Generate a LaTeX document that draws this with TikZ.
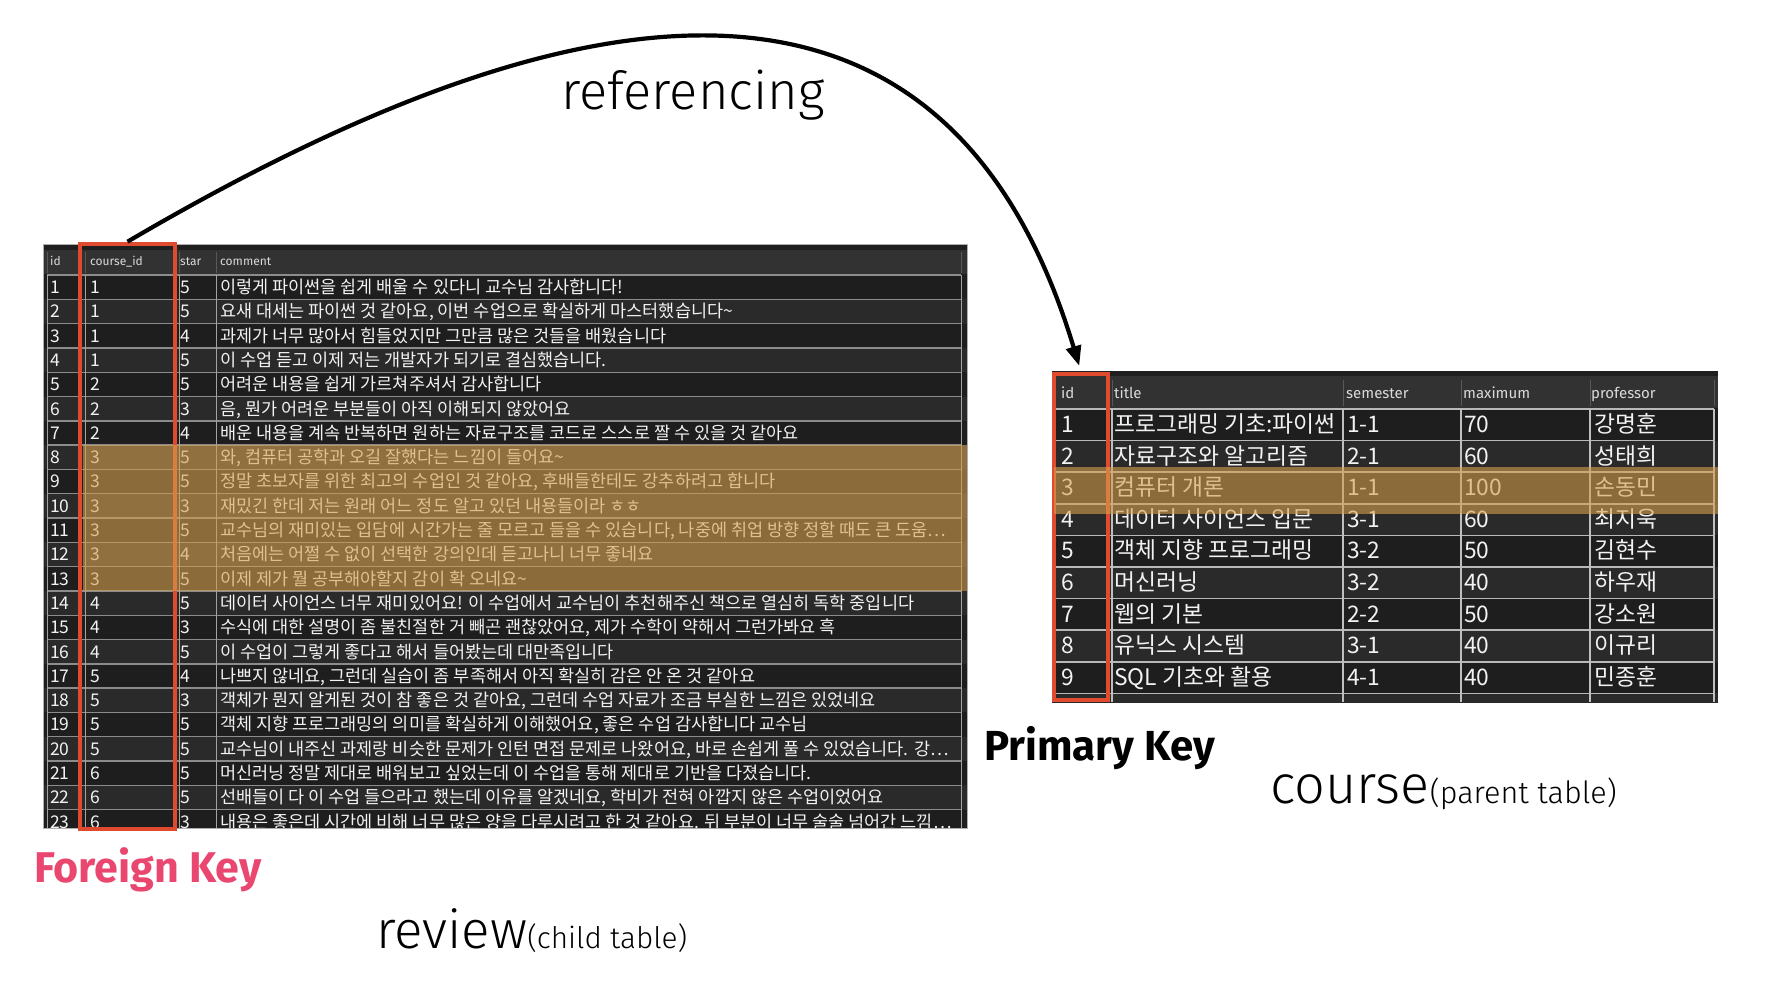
\documentclass[tikz,border=0pt]{standalone}
\usepackage{fontspec}
\usetikzlibrary{arrows.meta}
\newfontfamily\kr{Noto Sans CJK KR}
\newfontfamily\thin{Fira Sans Light}
\newfontfamily\fira{Fira Sans}
\definecolor{rowA}{HTML}{1E1E1E}
\definecolor{rowB}{HTML}{2A2A2A}
\definecolor{hdr}{HTML}{323232}
\definecolor{gridc}{HTML}{8C8C8C}
\definecolor{gridl}{HTML}{B8B8B8}
\definecolor{keyred}{HTML}{E04A2F}
\definecolor{fkpink}{HTML}{EA4770}
\definecolor{gold}{HTML}{D59F4C}
\definecolor{celltext}{HTML}{F2F2F2}
\tikzset{
  rtxt/.style={anchor=base west, inner sep=0pt, text=celltext, font=\kr\fontsize{17.5}{19}\selectfont},
  ctxt/.style={anchor=base west, inner sep=0pt, text=celltext, font=\kr\fontsize{22.8}{25}\selectfont},
  rhtxt/.style={anchor=base west, inner sep=0pt, text=celltext!90!black, font=\fira\fontsize{12}{13}\selectfont},
  chtxt/.style={anchor=base west, inner sep=0pt, text=celltext!90!black, font=\fira\fontsize{15}{16}\selectfont},
  keybox/.style={draw=keyred, line width=4.6pt, inner sep=0pt},
  hilite/.style={fill=gold, fill opacity=0.6},
  rowline/.style={draw=gridc, line width=1.4pt},
  crowline/.style={draw=gridl, line width=1.6pt},
  colline/.style={draw=gridc!80!white, line width=1pt},
  hcolline/.style={draw=black!65, line width=1pt},
  label/.style={anchor=base west, inner sep=0pt, text=black},
}
\newcommand\revrow[5]{%
  \pgfmathsetmacro\rowbase{275+(#1-1)*24.3+18.5}%
  \node[rtxt] (rid#1) at (50,\rowbase) {#2};
  \node[rtxt] (rcid#1) at (90,\rowbase) {#3};
  \node[rtxt] (rstar#1) at (180,\rowbase) {#4};
  \node[rtxt] (rcom#1) at (220,\rowbase) {#5};
}
\newcommand\crsrow[6]{%
  \pgfmathsetmacro\rowbase{409+(#1-1)*31.6+23.5}%
  \node[ctxt] (cid#1) at (1061,\rowbase) {#2};
  \node[ctxt] (ctitle#1) at (1114,\rowbase) {#3};
  \node[ctxt] (csem#1) at (1347,\rowbase) {#4};
  \node[ctxt] (cmax#1) at (1464,\rowbase) {#5};
  \node[ctxt] (cprof#1) at (1594,\rowbase) {#6};
}
\begin{document}
\begin{tikzpicture}[x=1pt,y=-1pt]
\useasboundingbox (0,0) rectangle (1778,984);
\fill[white] (0,0) rectangle (1778,984);

% ---------------- review table ----------------
\begin{scope}
  \clip (43,244) rectangle (967,828);
  \fill[rowA] (43,244) rectangle (967,828);
  \fill[black!88] (43,244) rectangle (967,250);
  \fill[hdr] (43,250) rectangle (967,274);
  \foreach \i in {1,...,23}{
    \pgfmathsetmacro\rt{275+(\i-1)*24.3}
    \ifodd\i\relax
      \fill[rowA] (43,\rt) rectangle (967,\rt+24.3);
    \else
      \fill[rowB] (43,\rt) rectangle (967,\rt+24.3);
    \fi
    \draw[rowline] (47,\rt) -- (961,\rt);
  }
  \foreach \xx in {47,85,179,216,961}{
    \draw[hcolline] (\xx,252) -- (\xx,273);
    \draw[colline] (\xx,275) -- (\xx,828);
  }
  \node[rhtxt] (hid) at (50,266) {id};
  \node[rhtxt] (hcid) at (90,266) {course\_id};
  \node[rhtxt] (hstar) at (180,266) {star};
  \node[rhtxt] (hcom) at (220,266) {comment};
  \revrow{1}{1}{1}{5}{이렇게 파이썬을 쉽게 배울 수 있다니 교수님 감사합니다!}
  \revrow{2}{2}{1}{5}{요새 대세는 파이썬 것 같아요, 이번 수업으로 확실하게 마스터했습니다\textasciitilde}
  \revrow{3}{3}{1}{4}{과제가 너무 많아서 힘들었지만 그만큼 많은 것들을 배웠습니다}
  \revrow{4}{4}{1}{5}{이 수업 듣고 이제 저는 개발자가 되기로 결심했습니다.}
  \revrow{5}{5}{2}{5}{어려운 내용을 쉽게 가르쳐주셔서 감사합니다}
  \revrow{6}{6}{2}{3}{음, 뭔가 어려운 부분들이 아직 이해되지 않았어요}
  \revrow{7}{7}{2}{4}{배운 내용을 계속 반복하면 원하는 자료구조를 코드로 스스로 짤 수 있을 것 같아요}
  \revrow{8}{8}{3}{5}{와, 컴퓨터 공학과 오길 잘했다는 느낌이 들어요\textasciitilde}
  \revrow{9}{9}{3}{5}{정말 초보자를 위한 최고의 수업인 것 같아요, 후배들한테도 강추하려고 합니다}
  \revrow{10}{10}{3}{3}{재밌긴 한데 저는 원래 어느 정도 알고 있던 내용들이라 ㅎㅎ}
  \revrow{11}{11}{3}{5}{교수님의 재미있는 입담에 시간가는 줄 모르고 들을 수 있습니다, 나중에 취업 방향 정할 때도 큰 도움…}
  \revrow{12}{12}{3}{4}{처음에는 어쩔 수 없이 선택한 강의인데 듣고나니 너무 좋네요}
  \revrow{13}{13}{3}{5}{이제 제가 뭘 공부해야할지 감이 확 오네요\textasciitilde}
  \revrow{14}{14}{4}{5}{데이터 사이언스 너무 재미있어요! 이 수업에서 교수님이 추천해주신 책으로 열심히 독학 중입니다}
  \revrow{15}{15}{4}{3}{수식에 대한 설명이 좀 불친절한 거 빼곤 괜찮았어요, 제가 수학이 약해서 그런가봐요 흑}
  \revrow{16}{16}{4}{5}{이 수업이 그렇게 좋다고 해서 들어봤는데 대만족입니다}
  \revrow{17}{17}{5}{4}{나쁘지 않네요, 그런데 실습이 좀 부족해서 아직 확실히 감은 안 온 것 같아요}
  \revrow{18}{18}{5}{3}{객체가 뭔지 알게된 것이 참 좋은 것 같아요, 그런데 수업 자료가 조금 부실한 느낌은 있었네요}
  \revrow{19}{19}{5}{5}{객체 지향 프로그래밍의 의미를 확실하게 이해했어요, 좋은 수업 감사합니다 교수님}
  \revrow{20}{20}{5}{5}{교수님이 내주신 과제랑 비슷한 문제가 인턴 면접 문제로 나왔어요, 바로 손쉽게 풀 수 있었습니다. 강…}
  \revrow{21}{21}{6}{5}{머신러닝 정말 제대로 배워보고 싶었는데 이 수업을 통해 제대로 기반을 다졌습니다.}
  \revrow{22}{22}{6}{5}{선배들이 다 이 수업 들으라고 했는데 이유를 알겠네요, 학비가 전혀 아깝지 않은 수업이었어요}
  \revrow{23}{23}{6}{3}{내용은 좋은데 시간에 비해 너무 많은 양을 다루시려고 한 것 같아요. 뒤 부분이 너무 술술 넘어간 느낌…}
\end{scope}
\draw[gridc!70!white, line width=0.8pt] (43,244) rectangle (967,828);

% ---------------- course table ----------------
\begin{scope}
  \clip (1052,371) rectangle (1718,702);
  \fill[rowA] (1052,371) rectangle (1718,702);
  \fill[black!88] (1052,371) rectangle (1718,376);
  \fill[hdr] (1052,376) rectangle (1718,408);
  \foreach \i in {1,...,10}{
    \pgfmathsetmacro\rt{409+(\i-1)*31.6}
    \ifodd\i\relax
      \fill[rowA] (1052,\rt) rectangle (1718,\rt+31.6);
    \else
      \fill[rowB] (1052,\rt) rectangle (1718,\rt+31.6);
    \fi
    \draw[crowline] (1055,\rt) -- (1714,\rt);
  }
  \foreach \xx in {1112,1343,1461,1590,1714}{
    \draw[hcolline] (\xx,380) -- (\xx,406);
    \draw[draw=gridl!90!white, line width=1.1pt] (\xx,409) -- (\xx,702);
  }
  \node[chtxt] (chid) at (1061,398) {id};
  \node[chtxt] (chtitle) at (1114,398) {title};
  \node[chtxt] (chsem) at (1346,398) {semester};
  \node[chtxt] (chmax) at (1463,398) {maximum};
  \node[chtxt] (chprof) at (1591,398) {professor};
  \crsrow{1}{1}{프로그래밍 기초:파이썬}{1-1}{70}{강명훈}
  \crsrow{2}{2}{자료구조와 알고리즘}{2-1}{60}{성태희}
  \crsrow{3}{3}{컴퓨터 개론}{1-1}{100}{손동민}
  \crsrow{4}{4}{데이터 사이언스 입문}{3-1}{60}{최지욱}
  \crsrow{5}{5}{객체 지향 프로그래밍}{3-2}{50}{김현수}
  \crsrow{6}{6}{머신러닝}{3-2}{40}{하우재}
  \crsrow{7}{7}{웹의 기본}{2-2}{50}{강소원}
  \crsrow{8}{8}{유닉스 시스템}{3-1}{40}{이규리}
  \crsrow{9}{9}{SQL 기초와 활용}{4-1}{40}{민종훈}
\end{scope}

% ---------------- key boxes ----------------
\node[keybox, minimum width=95pt, minimum height=585pt] (fk) at (127.5,536.5) {};
\node[keybox, minimum width=54pt, minimum height=326pt] (pk) at (1081,537) {};

% ---------------- highlights ----------------
\fill[hilite] (83,445) rectangle (967,591);
\fill[hilite] (1054,467) rectangle (1718,514);

% ---------------- arrow ----------------
\draw[line width=4.2pt, -{Triangle[length=20pt,width=15pt]}, shorten >=6pt]
  (fk.north) .. controls (551,-7) and (940,-95) .. (pk.north);

% ---------------- labels ----------------
\node[label, font=\thin\fontsize{52.5}{52}\selectfont] (reflabel) at (561,110) {referencing};
\node[label, font=\fira\bfseries\fontsize{42}{42}\selectfont] (pklabel) at (984,760) {Primary Key};
\node[label, text=fkpink, font=\fira\bfseries\fontsize{43}{43}\selectfont] (fklabel) at (34,882) {Foreign Key};
\node[label, font=\thin\fontsize{54}{54}\selectfont] (coursename) at (1270,803) {course{\fontsize{30.6}{31}\selectfont(parent table)}};
\node[label, font=\thin\fontsize{53}{53}\selectfont] (reviewname) at (376,948) {review{\fontsize{29.7}{30}\selectfont(child table)}};
\end{tikzpicture}
\end{document}
